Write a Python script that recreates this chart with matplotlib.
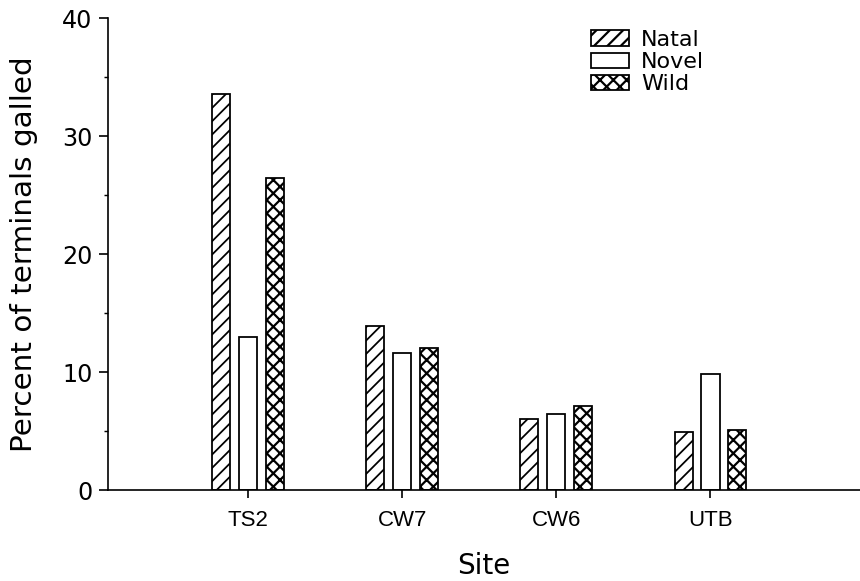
import matplotlib
matplotlib.use("Agg")
import matplotlib.pyplot as plt
import numpy as np

#data
sites = ["TS2", "CW7", "CW6", "UTB"]
natal = [33.6, 13.9, 6.0, 4.9]
novel = [13.0, 11.6, 6.4, 9.8]
wild = [26.4, 12.0, 7.1, 5.1]

plt.rcParams["font.family"] = "DejaVu Sans"

DPI = 80
fig = plt.figure(figsize=(860 / DPI, 581 / DPI), dpi=DPI)
ax = fig.add_axes([0.1256, 0.1566, 0.8744, 0.8124])

x = np.arange(len(sites))
w = 0.117
off = 0.175
plt.rcParams["hatch.linewidth"] = 1.6
ax.bar(x - off, natal, w, facecolor="white", edgecolor="black", linewidth=1.6, hatch="//", label="Natal")
ax.bar(x, novel, w, facecolor="white", edgecolor="black", linewidth=1.6, label="Novel")
plt.rcParams["hatch.linewidth"] = 2.0
ax.bar(x + off, wild, w, facecolor="white", edgecolor="black", linewidth=1.6, hatch="xx", label="Wild")

ax.set_xlim(-0.909, 3.97)
ax.set_ylim(0, 40)
ax.set_yticks([0, 10, 20, 30, 40])
ax.set_yticks([5, 15, 25, 35], minor=True)
ax.set_xticks(x)
ax.set_xticklabels(sites, fontsize=20, family="Liberation Sans")
ax.tick_params(axis="y", which="major", length=8, width=1.5, labelsize=21.5, pad=6)
ax.tick_params(axis="y", which="minor", length=4, width=1.3)
ax.tick_params(axis="x", length=7, width=1.5, pad=11)

for s in ["top", "right"]:
    ax.spines[s].set_visible(False)
for s in ["left", "bottom"]:
    ax.spines[s].set_linewidth(1.5)

ax.set_ylabel("Percent of terminals galled", fontsize=26.5, labelpad=22)
ax.set_xlabel("Site", fontsize=25, labelpad=19)

ax.legend(loc="upper left", bbox_to_anchor=(591 / 860, 1 - 30 / 581), bbox_transform=fig.transFigure,
          frameon=False, prop={"size": 20},
          handlelength=1.7, handleheight=0.7, handletextpad=0.55, labelspacing=0.1, borderpad=0, borderaxespad=0)

fig.savefig("out.png", dpi=DPI)
